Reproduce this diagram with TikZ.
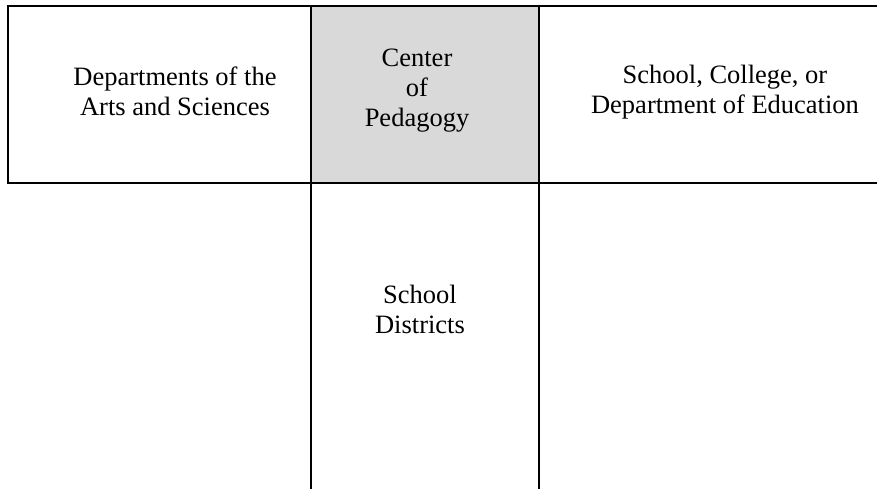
\documentclass[tikz,border=0pt]{standalone}
\usepackage{fontspec}
\setmainfont{Liberation Serif}
\usepackage{tikz}
\usetikzlibrary{positioning}
\definecolor{cellgray}{HTML}{D9D9D9}

\begin{document}
\begin{tikzpicture}[x=0.5pt, y=-0.5pt, line width=1pt,
    celltext/.style={align=center, font=\fontsize{13.25}{15}\selectfont, inner sep=0pt}]
    \useasboundingbox (0,0) rectangle (877,489);

    % Shaded center cell
    \fill[cellgray] (311,5.7) rectangle (539.3,182.5);

    % Grid lines
    \draw (877,5.7) -- (7.5,5.7) -- (7.5,182.5) -- (877,182.5);
    \draw (311,5.7) -- (311,489);
    \draw (539.3,5.7) -- (539.3,489);

    % Cell texts
    \node[celltext] (arts) at (175,91) {Departments of the\\Arts and Sciences};
    \node[celltext] (center) at (417,91) {Center\\of\\Pedagogy};
    \node[celltext] (educ) at (725,92) {School, College, or\\Department of Education};
    \node[celltext] (districts) at (420,309) {School\\Districts};
\end{tikzpicture}
\end{document}
